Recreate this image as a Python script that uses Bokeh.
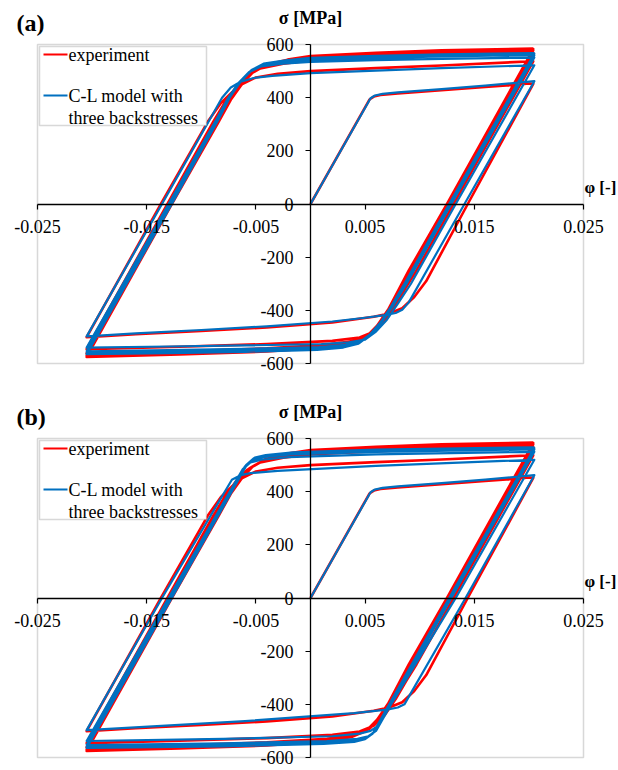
from bokeh.plotting import figure
from bokeh.layouts import column
from bokeh.models import (FixedTicker, PrintfTickFormatter, Label,
                          BoxAnnotation, Range1d)
from bokeh.embed import file_html
from bokeh.resources import INLINE

# ---------------- data (strain phi [-], stress sigma [MPa]) ----------------
x_ticks = [-0.025, -0.015, -0.005, 0.005, 0.015, 0.025]
y_ticks = [-600, -400, -200, 0, 200, 400, 600]

# experiment: branches (shared by both panels)
exp_x = [
    [0.0, 0.0054, 0.0058, 0.0064, 0.0080, 0.0120, 0.0160, 0.0201, 0.0204],
    [0.0204, 0.0144, 0.0106, 0.0095, 0.0084, 0.0072, 0.0058, 0.0020, -0.0040, -0.0100, -0.0160, -0.0205],
    [-0.0205, -0.0137, -0.0094, -0.0082, -0.0072, -0.0062, -0.0050, -0.0030, 0.0000, 0.0060, 0.0120, 0.0204],
    [0.0204, 0.0131, 0.0097, 0.0088, 0.0078, 0.0068, 0.0058, 0.0045, 0.0020, -0.0040, -0.0120, -0.0205],
    [-0.0205, -0.0131, -0.0089, -0.0078, -0.0068, -0.0058, -0.0046, -0.0025, 0.0000, 0.0060, 0.0120, 0.0204],
    [0.0204, 0.0127, 0.0093, 0.0084, 0.0074, 0.0064, 0.0054, 0.0040, 0.0015, -0.0040, -0.0120, -0.0205],
    [-0.0205, -0.0129, -0.0087, -0.0076, -0.0066, -0.0056, -0.0044, -0.0024, 0.0000, 0.0060, 0.0120, 0.0204],
    [0.0204, 0.0125, 0.0091, 0.0082, 0.0072, 0.0062, 0.0052, 0.0038, 0.0013, -0.0040, -0.0120, -0.0205],
    [-0.0205, -0.0127, -0.0085, -0.0074, -0.0064, -0.0054, -0.0042, -0.0022, 0.0000, 0.0060, 0.0120, 0.0204],
    [0.0204, 0.0125, 0.0090, 0.0081, 0.0071, 0.0061, 0.0051, 0.0037, 0.0012, -0.0040, -0.0120, -0.0205],
    [-0.0205, -0.0127, -0.0084, -0.0073, -0.0063, -0.0053, -0.0041, -0.0021, 0.0000, 0.0060, 0.0120, 0.0204],
]
exp_s = [
    [0, 393, 404, 410, 416, 428, 440, 453, 452],
    [452, 0, -290, -350, -392, -412, -424, -446, -464, -478, -490, -501],
    [-501, 0, 310, 380, 420, 452, 476, 490, 500, 511, 521, 537],
    [537, 0, -250, -310, -380, -440, -480, -502, -515, -527, -537, -546],
    [-546, 0, 310, 385, 440, 482, 510, 528, 540, 552, 560, 568],
    [568, 0, -250, -315, -390, -450, -492, -515, -530, -543, -554, -562],
    [-562, 0, 310, 388, 445, 488, 516, 536, 548, 560, 569, 578],
    [578, 0, -250, -318, -395, -455, -497, -520, -536, -550, -561, -570],
    [-570, 0, 310, 390, 448, 492, 520, 540, 553, 565, 575, 583],
    [583, 0, -250, -320, -398, -458, -500, -524, -540, -555, -566, -575],
    [-575, 0, 310, 392, 450, 494, 523, 543, 557, 569, 578, 585],
]

# C-L model, panel (a)
mod_a_x = [
    [0.0, 0.0055, 0.0059, 0.0066, 0.0080, 0.0120, 0.0160, 0.0205],
    [0.0205, 0.0141, 0.0090, 0.0084, 0.0078, 0.0068, 0.0050, 0.0020, -0.0040, -0.0100, -0.0160, -0.0205],
    [-0.0205, -0.0136, -0.0081, -0.0073, -0.0064, -0.0052, -0.0035, 0.0000, 0.0060, 0.0120, 0.0205],
    [0.0205, 0.0133, 0.0092, 0.0080, 0.0070, 0.0060, 0.0050, 0.0035, 0.0010, -0.0060, -0.0130, -0.0205],
    [-0.0205, -0.0130, -0.0086, -0.0076, -0.0066, -0.0056, -0.0045, -0.0025, 0.0000, 0.0060, 0.0120, 0.0205],
    [0.0205, 0.0129, 0.0088, 0.0076, 0.0066, 0.0056, 0.0046, 0.0032, 0.0008, -0.0060, -0.0130, -0.0205],
    [-0.0205, -0.0129, -0.0085, -0.0075, -0.0065, -0.0055, -0.0044, -0.0024, 0.0000, 0.0060, 0.0120, 0.0205],
    [0.0205, 0.0128, 0.0087, 0.0075, 0.0065, 0.0055, 0.0045, 0.0031, 0.0007, -0.0060, -0.0130, -0.0205],
    [-0.0205, -0.0128, -0.0084, -0.0074, -0.0064, -0.0054, -0.0043, -0.0023, 0.0000, 0.0060, 0.0120, 0.0205],
    [0.0205, 0.0127, 0.0086, 0.0074, 0.0064, 0.0054, 0.0044, 0.0030, 0.0006, -0.0060, -0.0130, -0.0205],
    [-0.0205, -0.0127, -0.0084, -0.0074, -0.0064, -0.0054, -0.0043, -0.0023, 0.0000, 0.0060, 0.0120, 0.0205],
]
mod_a_s = [
    [0, 398, 408, 414, 420, 432, 445, 462],
    [462, 0, -370, -398, -410, -418, -428, -442, -460, -474, -487, -498],
    [-498, 0, 400, 438, 460, 474, 482, 492, 502, 511, 522],
    [522, 0, -300, -375, -435, -480, -510, -520, -527, -532, -536, -540],
    [-540, 0, 320, 395, 455, 497, 518, 528, 535, 541, 546, 551],
    [551, 0, -300, -380, -440, -486, -517, -530, -538, -545, -550, -554],
    [-554, 0, 320, 398, 458, 500, 523, 534, 542, 549, 555, 560],
    [560, 0, -300, -382, -443, -490, -522, -536, -545, -552, -557, -561],
    [-561, 0, 320, 400, 460, 502, 526, 538, 547, 554, 560, 566],
    [566, 0, -300, -384, -446, -493, -525, -540, -549, -556, -561, -565],
    [-565, 0, 320, 401, 461, 504, 528, 540, 550, 557, 563, 568],
]

# C-L model, panel (b) (sharper transitions)
mod_b_x = [
    [0.0, 0.0055, 0.0059, 0.0066, 0.0080, 0.0120, 0.0160, 0.0205],
    [0.0205, 0.0142, 0.0086, 0.0080, 0.0070, 0.0040, -0.0060, -0.0205],
    [-0.0205, -0.0136, -0.0072, -0.0064, -0.0055, -0.0030, 0.0060, 0.0205],
    [0.0205, 0.0133, 0.0062, 0.0055, 0.0045, 0.0020, -0.0080, -0.0205],
    [-0.0205, -0.0130, -0.0062, -0.0055, -0.0045, -0.0020, 0.0060, 0.0205],
    [0.0205, 0.0129, 0.0060, 0.0053, 0.0043, 0.0015, -0.0080, -0.0205],
    [-0.0205, -0.0129, -0.0060, -0.0053, -0.0043, -0.0018, 0.0060, 0.0205],
    [0.0205, 0.0128, 0.0058, 0.0051, 0.0041, 0.0013, -0.0080, -0.0205],
    [-0.0205, -0.0128, -0.0059, -0.0052, -0.0042, -0.0017, 0.0060, 0.0205],
    [0.0205, 0.0127, 0.0057, 0.0050, 0.0040, 0.0012, -0.0080, -0.0205],
    [-0.0205, -0.0127, -0.0058, -0.0051, -0.0041, -0.0016, 0.0060, 0.0205],
]
mod_b_s = [
    [0, 398, 408, 414, 420, 432, 445, 462],
    [462, 0, -400, -412, -420, -433, -463, -497],
    [-497, 0, 445, 462, 470, 478, 497, 520],
    [520, 0, -480, -500, -510, -520, -530, -538],
    [-538, 0, 485, 510, 520, 530, 540, 550],
    [550, 0, -500, -520, -530, -538, -547, -553],
    [-553, 0, 495, 520, 530, 540, 550, 559],
    [559, 0, -505, -527, -537, -545, -554, -560],
    [-560, 0, 500, 525, 535, 545, 555, 564],
    [564, 0, -510, -531, -541, -549, -558, -564],
    [-564, 0, 503, 528, 538, 548, 558, 567],
]

legend_labels = ["experiment", "C-L model with", "three backstresses"]

RED = "#FF0000"
BLUE = "#0070C0"
GREY = "#7f7f7f"
FONT = "Liberation Serif"

# ---------------- layout (pixels) ----------------
W = 618
BOX_L, BOX_R = 37, 583          # x pixel of -0.025 / 0.025
BOX_H = 319                     # pixel height of the -600..600 box
XS = (BOX_R - BOX_L) / 0.05     # px per unit strain
YS = BOX_H / 1200.0             # px per MPa


def flat(branches):
    out = []
    for b in branches:
        out.extend(b)
    return out


def make_panel(tag, mx, ms, height, box_top):
    box_bottom = box_top + BOX_H
    x0 = -0.025 - BOX_L / XS
    x1 = 0.025 + (W - BOX_R) / XS
    y1 = 600 + box_top / YS
    y0 = -600 - (height - box_bottom) / YS
    p = figure(width=W, height=height,
               x_range=Range1d(x0, x1), y_range=Range1d(y0, y1),
               output_backend="svg", toolbar_location=None, min_border=0)
    p.grid.visible = False
    p.outline_line_color = None
    p.background_fill_color = "white"
    p.border_fill_color = "white"

    # plot-area box
    p.add_layout(BoxAnnotation(left=-0.025, right=0.025, bottom=-600, top=600,
                               fill_alpha=0, line_color=GREY, line_width=1.5,
                               level="underlay"))

    p.xaxis.fixed_location = 0
    p.yaxis.fixed_location = 0
    p.xaxis.bounds = (-0.025, 0.025)
    p.yaxis.bounds = (-600, 600)
    p.xaxis.ticker = FixedTicker(ticks=x_ticks)
    p.yaxis.ticker = FixedTicker(ticks=y_ticks)
    p.xaxis.formatter = PrintfTickFormatter(format="%.3f")
    p.yaxis.formatter = PrintfTickFormatter(format="%d")
    for ax in (p.xaxis, p.yaxis):
        ax.axis_line_color = "black"
        ax.axis_line_width = 1.3
        ax.major_tick_line_color = "black"
        ax.major_tick_line_width = 1.2
        ax.major_tick_in = 0
        ax.major_tick_out = 5
        ax.minor_tick_line_color = None
        ax.major_label_text_font = FONT
        ax.major_label_text_font_size = "18px"
        ax.major_label_text_color = "black"
    p.xaxis.major_label_standoff = 11
    p.yaxis.major_label_standoff = 12

    p.line(flat(exp_x), flat(exp_s), line_color=RED, line_width=2.6,
           line_join="round")
    p.line(flat(mx), flat(ms), line_color=BLUE, line_width=2.2,
           line_join="round")

    # legend (box, swatches, texts), positioned in pixels from the box corner
    def lx(px):
        return -0.025 + (px - BOX_L) / XS

    def ly(dpx):
        return 600 - dpx / YS

    p.add_layout(BoxAnnotation(left=lx(39), right=lx(206), top=ly(2),
                               bottom=ly(81), fill_color="white", fill_alpha=1,
                               line_color=GREY, line_width=1.5))
    for color, dy in ((RED, 10), (BLUE, 51)):
        p.add_layout(BoxAnnotation(left=lx(43), right=lx(67),
                                   top=ly(dy - 1.1), bottom=ly(dy + 1.1),
                                   fill_color=color, fill_alpha=1,
                                   line_alpha=0))
    for txt, dy in zip(legend_labels, (10, 51, 73)):
        p.add_layout(Label(x=-0.025, y=600, x_offset=68 - BOX_L, y_offset=-dy,
                           text=txt, text_font=FONT, text_font_size="18px",
                           text_color="black", text_baseline="middle",
                           text_align="left"))

    p.add_layout(Label(x=-0.025, y=600, x_offset=-21, y_offset=22, text=tag,
                       text_font=FONT, text_font_style="bold",
                       text_font_size="24px", text_baseline="middle",
                       text_align="left", text_color="black"))
    p.add_layout(Label(x=0, y=600, y_offset=27, text="σ [MPa]",
                       text_font=FONT, text_font_style="bold",
                       text_font_size="18px", text_baseline="middle",
                       text_align="center", text_color="black"))
    p.add_layout(Label(x=0.025, y=0, x_offset=1, y_offset=17, text="φ [-]",
                       text_font=FONT, text_font_style="bold",
                       text_font_size="17px", text_baseline="middle",
                       text_align="left", text_color="black"))
    return p


pa = make_panel("(a)", mod_a_x, mod_a_s, 398, 44)
pb = make_panel("(b)", mod_b_x, mod_b_s, 370, 40)

layout = column(pa, pb)
open("out.html", "w").write(file_html(layout, INLINE))
